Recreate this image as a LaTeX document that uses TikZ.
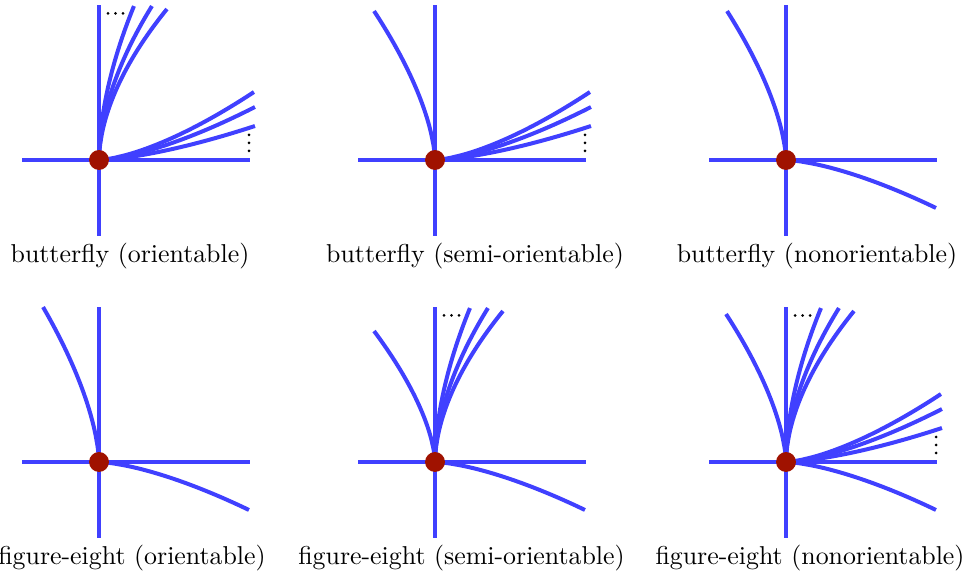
\documentclass[tikz,border=0pt]{standalone}
\usepackage{xcolor}
\usepackage{tikz}

\definecolor{branchblue}{RGB}{64,64,255}
\definecolor{vertexred}{RGB}{160,18,0}

% branches of the singular point, in pixel units
\newcommand{\axes}{%
  \draw[stroke] (0,-76) -- (0,155);
  \draw[stroke] (-77,0) -- (151,0);
}
\newcommand{\upfan}{%
  \foreach \ex/\ey in {35/154, 53/154, 68/151}
    \draw[stroke] plot[variable=\pp, domain=0.001:1, samples=40, smooth] ({\ex*\pp^1.8}, {\ey*\pp});
  \foreach \dx in {9, 16.5, 24} \fill (\dx,146.5) circle[radius=1.5];
}
\newcommand{\rightfan}{%
  \foreach \ex/\ey in {155/68, 156/53, 156/34}
    \draw[stroke] plot[variable=\pp, domain=0.001:1, samples=40, smooth] ({\ex*\pp}, {\ey*\pp^1.5});
  \foreach \dy in {9, 17, 25} \fill (150,\dy) circle[radius=1.5];
}
\newcommand{\leftbranch}[2]{%
  \draw[stroke] plot[variable=\pp, domain=0.001:1, samples=40, smooth] ({#1*\pp^1.6}, {#2*\pp});
}
\newcommand{\downbranch}{%
  \draw[stroke] plot[variable=\pp, domain=0.001:1, samples=40, smooth] ({150*\pp}, {-48*\pp^1.5});
}

\begin{document}
\begin{tikzpicture}[x=0.0136cm, y=0.0136cm,
  stroke/.style={line width=1.55pt, draw=branchblue},
  vertex/.style={circle, fill=vertexred, inner sep=0pt, minimum size=7.7pt},
  caption/.style={anchor=base, inner sep=0pt}]

\useasboundingbox (0,0) rectangle (976,575);

% top row: butterflies
\begin{scope}[shift={(99,415)}]
  \axes \upfan \rightfan
  \node[vertex] (bo) at (0,0) {};
  \node[caption] (bocap) at (31,-102.5) {butterfly (orientable)};
\end{scope}

\begin{scope}[shift={(435,415)}]
  \axes \leftbranch{-61}{149} \rightfan
  \node[vertex] (bs) at (0,0) {};
  \node[caption] (bscap) at (40,-102.5) {butterfly (semi-orientable)};
\end{scope}

\begin{scope}[shift={(786,415)}]
  \axes \leftbranch{-59}{149} \downbranch
  \node[vertex] (bn) at (0,0) {};
  \node[caption] (bncap) at (31,-102.5) {butterfly (nonorientable)};
\end{scope}

% bottom row: figure-eights
\begin{scope}[shift={(99,113)}]
  \axes \leftbranch{-56}{155} \downbranch
  \node[vertex] (fo) at (0,0) {};
  \node[caption] (focap) at (33,-102.5) {figure-eight (orientable)};
\end{scope}

\begin{scope}[shift={(435,113)}]
  \axes \leftbranch{-61}{131} \upfan \downbranch
  \node[vertex] (fs) at (0,0) {};
  \node[caption] (fscap) at (26.5,-102.5) {figure-eight (semi-orientable)};
\end{scope}

\begin{scope}[shift={(786,113)}]
  \axes \leftbranch{-60}{148} \upfan \rightfan \downbranch
  \node[vertex] (fn) at (0,0) {};
  \node[caption] (fncap) at (24,-102.5) {figure-eight (nonorientable)};
\end{scope}
\end{tikzpicture}
\end{document}
